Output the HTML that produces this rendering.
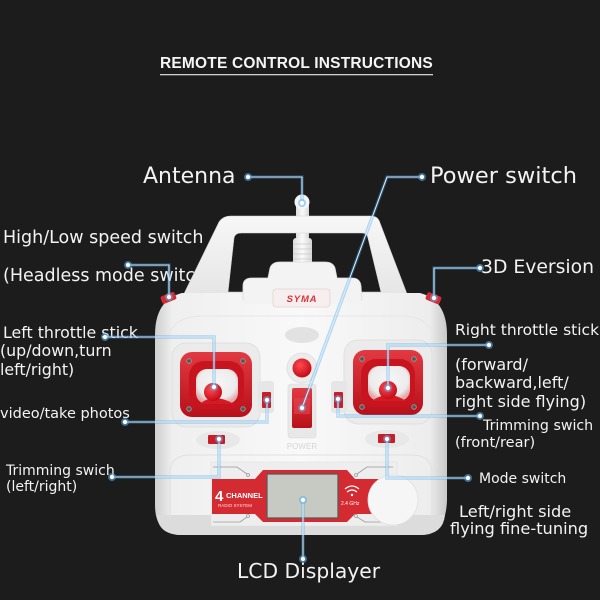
<!DOCTYPE html>
<html><head><meta charset="utf-8"><style>
html,body{margin:0;padding:0;background:#1c1c1c;}
svg{display:block;}
.t{font-family:"DejaVu Sans","Liberation Sans",sans-serif;fill:#f3f3f3;}
</style></head><body>
<svg width="600" height="600" viewBox="0 0 600 600" xmlns="http://www.w3.org/2000/svg">
<defs>
<linearGradient id="bodyg" x1="0" y1="0" x2="1" y2="0">
<stop offset="0" stop-color="#cfcfcf"/><stop offset="0.06" stop-color="#efefef"/>
<stop offset="0.5" stop-color="#f9f9f9"/><stop offset="0.94" stop-color="#ededed"/>
<stop offset="1" stop-color="#c9c9c9"/></linearGradient>
<linearGradient id="handg" x1="0" y1="0" x2="0" y2="1">
<stop offset="0" stop-color="#f7f7f7"/><stop offset="1" stop-color="#e4e4e4"/></linearGradient>
<linearGradient id="redg" x1="0" y1="0" x2="0" y2="1">
<stop offset="0" stop-color="#e23a42"/><stop offset="1" stop-color="#b8101a"/></linearGradient>
<radialGradient id="inner" cx="0.5" cy="0.4" r="0.6">
<stop offset="0" stop-color="#f6f6f6"/><stop offset="0.75" stop-color="#ececec"/><stop offset="1" stop-color="#e2aaaa"/></radialGradient>
<radialGradient id="dot" cx="0.4" cy="0.35" r="0.7">
<stop offset="0" stop-color="#ff4a52"/><stop offset="1" stop-color="#c00812"/></radialGradient>
<linearGradient id="antg" x1="0" y1="0" x2="1" y2="0">
<stop offset="0" stop-color="#dcdcdc"/><stop offset="0.5" stop-color="#fafafa"/><stop offset="1" stop-color="#d6d6d6"/></linearGradient>
</defs>

<rect width="600" height="600" fill="#1c1c1c"/>

<!-- Title -->
<text x="160" y="68" font-family="Liberation Sans, Arial, sans-serif" font-weight="bold" font-size="15.5" letter-spacing="0.2" fill="#f5f5f5">REMOTE CONTROL INSTRUCTIONS</text>
<rect x="160" y="74" width="273" height="1.3" fill="#cfcfcf"/>

<!-- Labels -->
<text class="t" x="143" y="183" font-size="22">Antenna</text>
<text class="t" x="430" y="183" font-size="22.5">Power switch</text>
<text class="t" x="3" y="243" font-size="17.5">High/Low speed switch</text>
<text class="t" x="3" y="281" font-size="17.5">(Headless mode switch)</text>
<text class="t" x="3" y="338" font-size="15.8">Left throttle stick</text>
<text class="t" x="0" y="356" font-size="15.8">(up/down,turn</text>
<text class="t" x="0" y="375" font-size="15.8">left/right)</text>
<text class="t" x="0" y="418" font-size="14.5">video/take photos</text>
<text class="t" x="6" y="475" font-size="14">Trimming swich</text>
<text class="t" x="6" y="491" font-size="14">(left/right)</text>
<text class="t" x="481" y="273" font-size="18.8">3D Eversion</text>
<text class="t" x="455" y="335" font-size="15.5">Right throttle stick</text>
<text class="t" x="455" y="370" font-size="16">(forward/</text>
<text class="t" x="455" y="388" font-size="16">backward,left/</text>
<text class="t" x="455" y="407" font-size="16">right side flying)</text>
<text class="t" x="483" y="430" font-size="14.2">Trimming swich</text>
<text class="t" x="455" y="447" font-size="14.5">(front/rear)</text>
<text class="t" x="479" y="483" font-size="14">Mode switch</text>
<text class="t" x="459" y="517" font-size="16.2">Left/right side</text>
<text class="t" x="450" y="534" font-size="16.2">flying fine-tuning</text>
<text class="t" x="237" y="578" font-size="20.3">LCD Displayer</text>

<!-- Controller -->
<!-- antenna -->
<rect x="296" y="200" width="13" height="42" rx="5" fill="url(#antg)"/>
<circle cx="302" cy="202" r="7.5" fill="#f4f4f4"/>
<rect x="293" y="238" width="19" height="28" rx="3" fill="url(#antg)"/>
<g stroke="#c8c8c8" stroke-width="0.8">
<line x1="293" y1="244" x2="312" y2="244"/><line x1="293" y1="249" x2="312" y2="249"/>
<line x1="293" y1="254" x2="312" y2="254"/><line x1="293" y1="259" x2="312" y2="259"/></g>

<!-- handle -->
<path fill-rule="evenodd" fill="url(#handg)" stroke="#d6d6d6" stroke-width="0.6"
d="M180,302 L219,222 Q223,216 231,216 L371,216 Q378,216 380,223 L410,302 Z
M228,292 L234,238 Q235,233 241,233 L362,233 Q367,233 368,238 L381,292 Z"/>

<!-- body -->
<path fill="url(#bodyg)" d="M155,335 Q155,300 182,293 L420,293 Q447,300 447,335 L447,500 Q446,535 420,535 L182,535 Q155,535 155,505 Z"/>
<path fill="#dcdcdc" d="M157,515 L445,515 Q443,535 420,535 L182,535 Q158,535 157,515 Z"/>
<path fill="none" stroke="#e0e0e0" stroke-width="1" d="M170,520 L170,470 Q172,455 190,455 L412,455 Q430,455 432,470 L432,520"/>
<path fill="none" stroke="#e6e6e6" stroke-width="1" d="M168,340 Q170,318 200,316 L404,316 Q432,318 434,340"/>

<!-- center piece -->
<path fill="#f3f3f3" stroke="#dedede" stroke-width="0.8" d="M243,300 L243,286 Q243,278 252,278 L268,278 L270,268 Q272,262 280,262 L325,262 Q333,262 335,268 L337,278 L352,278 Q360,278 361,286 L362,300 Z"/>
<rect x="244" y="296" width="117" height="8" fill="#f3f3f3"/>

<!-- shoulder buttons -->
<rect x="161" y="294" width="15" height="8" rx="2" fill="#d42a32" transform="rotate(-22 168 298)"/>
<rect x="426" y="294" width="15" height="8" rx="2" fill="#d42a32" transform="rotate(22 433 298)"/>

<!-- SYMA logo -->
<rect x="273" y="289" width="57" height="18" rx="3" fill="#f7efef" stroke="#e4d2d2" stroke-width="0.8"/>
<text x="302" y="302" text-anchor="middle" font-family="Liberation Sans, sans-serif" font-weight="bold" font-style="italic" font-size="9.5" letter-spacing="0.8" fill="#d8353c">SYMA</text>

<!-- center column -->
<ellipse cx="302" cy="335" rx="17" ry="8" fill="#e2e2e2"/>
<circle cx="302" cy="368" r="15" fill="#ececec" stroke="#dddddd" stroke-width="0.8"/>
<circle cx="302" cy="368" r="9.5" fill="url(#dot)"/>
<rect x="288" y="384" width="28" height="54" rx="3" fill="#e8e8e8" stroke="#dadada" stroke-width="0.6"/>
<rect x="292" y="388" width="20" height="40" rx="2" fill="url(#redg)"/>
<rect x="294" y="398" width="16" height="16" fill="#e8434b" opacity="0.6"/>
<text x="302" y="449" text-anchor="middle" font-family="Liberation Sans, sans-serif" font-size="8" fill="#d6d6d6">POWER</text>

<!-- stick panels -->
<rect x="172" y="343" width="88" height="84" rx="14" fill="#ebebeb" stroke="#dcdcdc" stroke-width="0.8"/>
<rect x="344" y="340" width="88" height="84" rx="14" fill="#ebebeb" stroke="#dcdcdc" stroke-width="0.8"/>

<!-- left stick -->
<rect x="180" y="352" width="72" height="65" rx="12" fill="url(#redg)"/>
<rect x="189" y="361" width="55" height="48" rx="15" fill="#c8141e"/>
<rect x="196" y="369" width="42" height="35" rx="11" fill="url(#inner)"/>
<path d="M200,404 Q213,392 234,404 Z" fill="#d41a24"/>
<circle cx="213" cy="392" r="9" fill="url(#dot)"/>
<g fill="#555" stroke="#a0a0a0" stroke-width="0.8">
<circle cx="189" cy="361" r="2.3"/><circle cx="243" cy="361" r="2.3"/>
<circle cx="189" cy="409" r="2.3"/><circle cx="243" cy="409" r="2.3"/></g>

<!-- right stick -->
<rect x="353" y="350" width="70" height="65" rx="12" fill="url(#redg)"/>
<rect x="361" y="359" width="54" height="48" rx="15" fill="#c8141e"/>
<rect x="368" y="366" width="42" height="35" rx="11" fill="url(#inner)"/>
<path d="M372,401 Q388,389 406,401 Z" fill="#d41a24"/>
<circle cx="388" cy="390" r="9" fill="url(#dot)"/>
<g fill="#555" stroke="#a0a0a0" stroke-width="0.8">
<circle cx="362" cy="359" r="2.3"/><circle cx="414" cy="359" r="2.3"/>
<circle cx="362" cy="407" r="2.3"/><circle cx="414" cy="407" r="2.3"/></g>

<!-- trims -->
<rect x="258" y="381" width="16" height="32" rx="3" fill="#e6e6e6"/>
<rect x="262" y="392" width="9" height="16" rx="1" fill="#c81e28"/>
<rect x="331" y="381" width="16" height="32" rx="3" fill="#e6e6e6"/>
<rect x="334" y="392" width="9" height="16" rx="1" fill="#c81e28"/>
<ellipse cx="218" cy="440" rx="22" ry="9" fill="#e8e8e8"/>
<rect x="208" y="435" width="17" height="9" rx="1" fill="#c81e28"/>
<ellipse cx="387" cy="439" rx="22" ry="9" fill="#e8e8e8"/>
<rect x="378" y="434" width="17" height="9" rx="1" fill="#c81e28"/>

<!-- LCD panel -->
<rect x="211" y="462" width="186" height="64" fill="#eeeeee" stroke="#e0e0e0" stroke-width="0.6"/>
<rect x="212" y="479" width="46" height="35" fill="#d42a32"/>
<rect x="350" y="479" width="46" height="35" fill="#d42a32"/>
<polygon points="255,479 263,470 347,470 355,479 355,514 347,522 263,522 255,514" fill="#d42a32"/>
<rect x="267" y="474" width="71" height="44" fill="#c6cac2" stroke="#5a5a5a" stroke-width="1.3"/>
<text x="215" y="501" font-family="Liberation Sans, sans-serif" font-weight="bold" font-size="15" fill="#ffffff">4</text>
<text x="226" y="498" font-family="Liberation Sans, sans-serif" font-weight="bold" font-size="7.5" fill="#ffffff">CHANNEL</text>
<text x="218" y="507" font-family="Liberation Sans, sans-serif" font-size="4.5" fill="#ffe0e0">RADIO SYSTEM</text>
<g fill="none" stroke="#ffffff" stroke-width="1.2">
<path d="M345,489 Q352,483 359,489"/><path d="M347,492 Q352,488 357,492"/></g>
<circle cx="352" cy="495" r="1.2" fill="#fff"/>
<text x="341" y="505" font-family="Liberation Sans, sans-serif" font-size="5" fill="#ffffff">2.4 GHz</text>
<g fill="none" stroke="#9a9a9a" stroke-width="0.8">
<path d="M213,467 H237 L247,474"/><circle cx="248" cy="475" r="1.5"/>
<path d="M213,522 H240 L247,517"/><circle cx="248" cy="516" r="1.5"/>
<path d="M393,467 H367 L357,474"/><circle cx="356" cy="475" r="1.5"/>
<path d="M393,522 H365 L357,517"/><circle cx="356" cy="516" r="1.5"/></g>
<circle cx="393" cy="500" r="25" fill="#f6f6f6" stroke="#e0e0e0" stroke-width="0.8"/>

<!-- Connector lines -->
<g fill="none" stroke="#3d9be0" stroke-width="3.5" opacity="0.35">
<path d="M248,177 H302 V203"/>
<path d="M422,177 H387 L302,408"/>
<path d="M128,265 H169 V297"/>
<path d="M105,337 H214 V387"/>
<path d="M125,422 H267 V400"/>
<path d="M112,477 H219 V439"/>
<path d="M480,268 H434 V298"/>
<path d="M489,345 H388 V388"/>
<path d="M480,416 H338 V399"/>
<path d="M468,478 H387 V439"/>
<path d="M303,559 V500"/>
</g>
<g fill="none" stroke="#d6eeff" stroke-width="1.1">
<path d="M248,177 H302 V203"/>
<path d="M422,177 H387 L302,408"/>
<path d="M128,265 H169 V297"/>
<path d="M105,337 H214 V387"/>
<path d="M125,422 H267 V400"/>
<path d="M112,477 H219 V439"/>
<path d="M480,268 H434 V298"/>
<path d="M489,345 H388 V388"/>
<path d="M480,416 H338 V399"/>
<path d="M468,478 H387 V439"/>
<path d="M303,559 V500"/>
</g>
<g fill="#5ab0ef" opacity="0.55">
<circle cx="248" cy="177" r="4"/><circle cx="302" cy="203" r="4"/>
<circle cx="422" cy="177" r="4"/><circle cx="302" cy="408" r="4"/>
<circle cx="128" cy="265" r="4"/><circle cx="169" cy="297" r="4"/>
<circle cx="105" cy="337" r="4"/><circle cx="214" cy="387" r="4"/>
<circle cx="125" cy="422" r="4"/><circle cx="267" cy="400" r="4"/>
<circle cx="112" cy="477" r="4"/><circle cx="219" cy="439" r="4"/>
<circle cx="480" cy="268" r="4"/><circle cx="434" cy="298" r="4"/>
<circle cx="489" cy="345" r="4"/><circle cx="388" cy="388" r="4"/>
<circle cx="480" cy="416" r="4"/><circle cx="338" cy="399" r="4"/>
<circle cx="468" cy="478" r="4"/><circle cx="387" cy="439" r="4"/>
<circle cx="303" cy="559" r="4"/><circle cx="303" cy="500" r="4"/>
</g>
<g fill="#ffffff">
<circle cx="248" cy="177" r="2.2"/><circle cx="302" cy="203" r="2.2"/>
<circle cx="422" cy="177" r="2.2"/><circle cx="302" cy="408" r="2.2"/>
<circle cx="128" cy="265" r="2.2"/><circle cx="169" cy="297" r="2.2"/>
<circle cx="105" cy="337" r="2.2"/><circle cx="214" cy="387" r="2.2"/>
<circle cx="125" cy="422" r="2.2"/><circle cx="267" cy="400" r="2.2"/>
<circle cx="112" cy="477" r="2.2"/><circle cx="219" cy="439" r="2.2"/>
<circle cx="480" cy="268" r="2.2"/><circle cx="434" cy="298" r="2.2"/>
<circle cx="489" cy="345" r="2.2"/><circle cx="388" cy="388" r="2.2"/>
<circle cx="480" cy="416" r="2.2"/><circle cx="338" cy="399" r="2.2"/>
<circle cx="468" cy="478" r="2.2"/><circle cx="387" cy="439" r="2.2"/>
<circle cx="303" cy="559" r="2.2"/><circle cx="303" cy="500" r="2.2"/>
</g>
</svg>
</body></html>
